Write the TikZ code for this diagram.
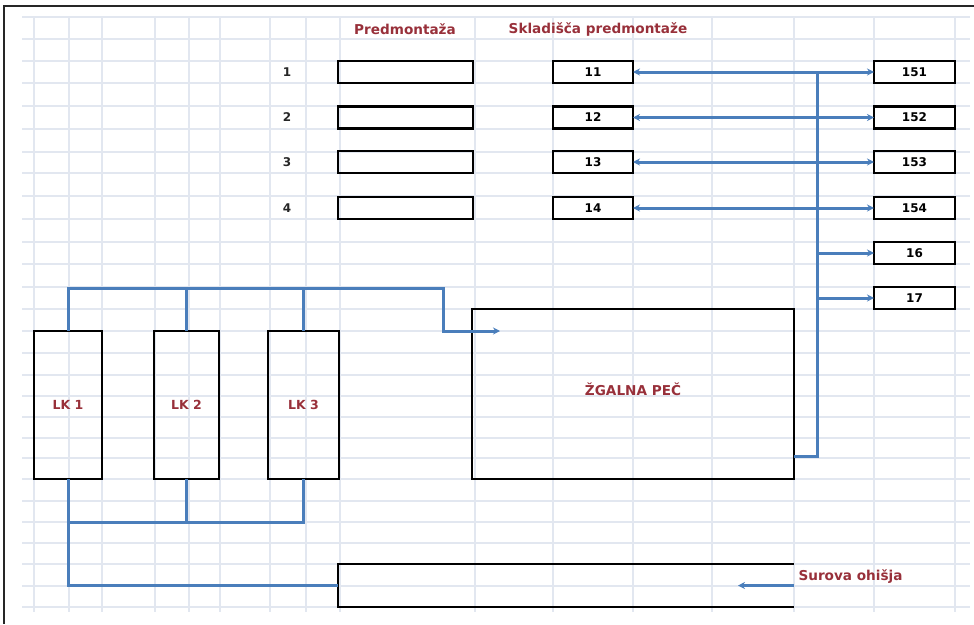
\documentclass[tikz,border=0pt]{standalone}
\usepackage{fontspec}
\setmainfont{DejaVu Sans}
\usepackage{tikz}
\usetikzlibrary{calc}
\usetikzlibrary{arrows.meta}
\definecolor{flowblue}{RGB}{74,126,187}
\definecolor{hdred}{RGB}{152,48,58}
\definecolor{gridc}{RGB}{226,231,240}
\begin{document}
\begin{tikzpicture}[x=1pt,y=-1pt,
  gridline/.style={gridc, line width=1.2pt},
  box/.style={draw=black, line width=2.5pt, inner sep=0pt, outer sep=0pt, minimum height=22pt, font=\fontsize{12}{14}\selectfont\bfseries},
  lk/.style={box, minimum height=148pt, font=\fontsize{12.5}{14}\selectfont\bfseries, text=hdred},
  num/.style={font=\fontsize{12}{14}\selectfont\bfseries, text=black!85},
  head/.style={font=\fontsize{13.6}{15}\selectfont\bfseries, text=hdred},
  flow/.style={flowblue, line width=3pt, >={Stealth[length=7pt,width=7pt]}}]
\useasboundingbox (0,0) rectangle (974,624);
% sheet grid
\foreach \y in {17,39,61,83,106,129,152,173,196,219,242,264,287,309,331,353,375,396,417,438,458,479,501,522,543,564,586,607}
  \draw[gridline] (22,\y) -- (970,\y);
\foreach \x in {34,69,102,155,189,220,270,306,340,475,553,633,712,794,874,955}
  \draw[gridline] (\x,17) -- (\x,612);
% frame
\draw[black!85, line width=2pt] (974,6) -- (4,6) -- (4,624);
% headers
\node[head] (hpre) at (405,29) {Predmontaža};
\node[head] (hskl) at (598,29) {Skladišča predmontaže};
% rows 1-4
\foreach \i/\y in {1/72,2/117.5,3/162,4/208} {
  \node[num] (n\i) at (287,\y) {\i};
  \node[box, minimum width=135pt] (p\i) at (405.5,\y) {};
  \node[box, minimum width=80pt] (s1\i) at (593,\y) {1\i};
  \node[box, minimum width=81pt] (r15\i) at (914.5,\y) {15\i};
};
\node[box, minimum width=81pt] (r16) at (914.5,253) {16};
\node[box, minimum width=81pt] (r17) at (914.5,298) {17};
% furnace and LK
\node[box, minimum width=322pt, minimum height=170pt, font=\fontsize{13.6}{15}\selectfont\bfseries, text=hdred] (pec) at (633,394) {\raisebox{9pt}{ŽGALNA PEČ}};
\node[lk, minimum width=68pt] (lk1) at (68,405) {\raisebox{-2pt}{LK 1}};
\node[lk, minimum width=65pt] (lk2) at (186.5,405) {\raisebox{-2pt}{LK 2}};
\node[lk, minimum width=71pt] (lk3) at (303.5,405) {\raisebox{-2pt}{LK 3}};
% raw housings (open on the right)
\node[minimum width=456pt, minimum height=43pt, inner sep=0pt, outer sep=0pt] (surova) at (566,585.5) {};
\draw[line width=2.5pt] (surova.north east) -- (surova.north west) -- (surova.south west) -- (surova.south east);
\node[head, anchor=west] (surlbl) at (795,577) {Surova ohišja};
\coordinate (surin) at (738,585.5);
\draw[flow,->] (surova.east) -- (surin);
% LK to furnace
\coordinate (bus) at (443,288);
\coordinate (pecin) at ($(pec.north west)+(28,22)$);
\draw[flow,->] (lk1.north) |- (bus) |- (pecin);
\draw[flow] (lk2.north) -- (lk2.north |- bus);
\draw[flow] (lk3.north) -- (lk3.north |- bus);
% LK collector to raw housings
\coordinate (join) at (68,522);
\draw[flow] (lk1.south) |- (surova.west);
\draw[flow] (lk3.south) |- (join);
\draw[flow] (lk2.south) -- (lk2.south |- join);
% furnace outlet to storages
\coordinate (pecout) at ($(pec.south east)+(0,-23)$);
\coordinate (riser) at (817,72);
\draw[flow] (pecout) -| (riser);
\foreach \i in {1,2,3,4}
  \draw[flow,<->] (s1\i.east) -- (r15\i.west);
\draw[flow,->] (riser |- r16.west) -- (r16.west);
\draw[flow,->] (riser |- r17.west) -- (r17.west);
\end{tikzpicture}
\end{document}
